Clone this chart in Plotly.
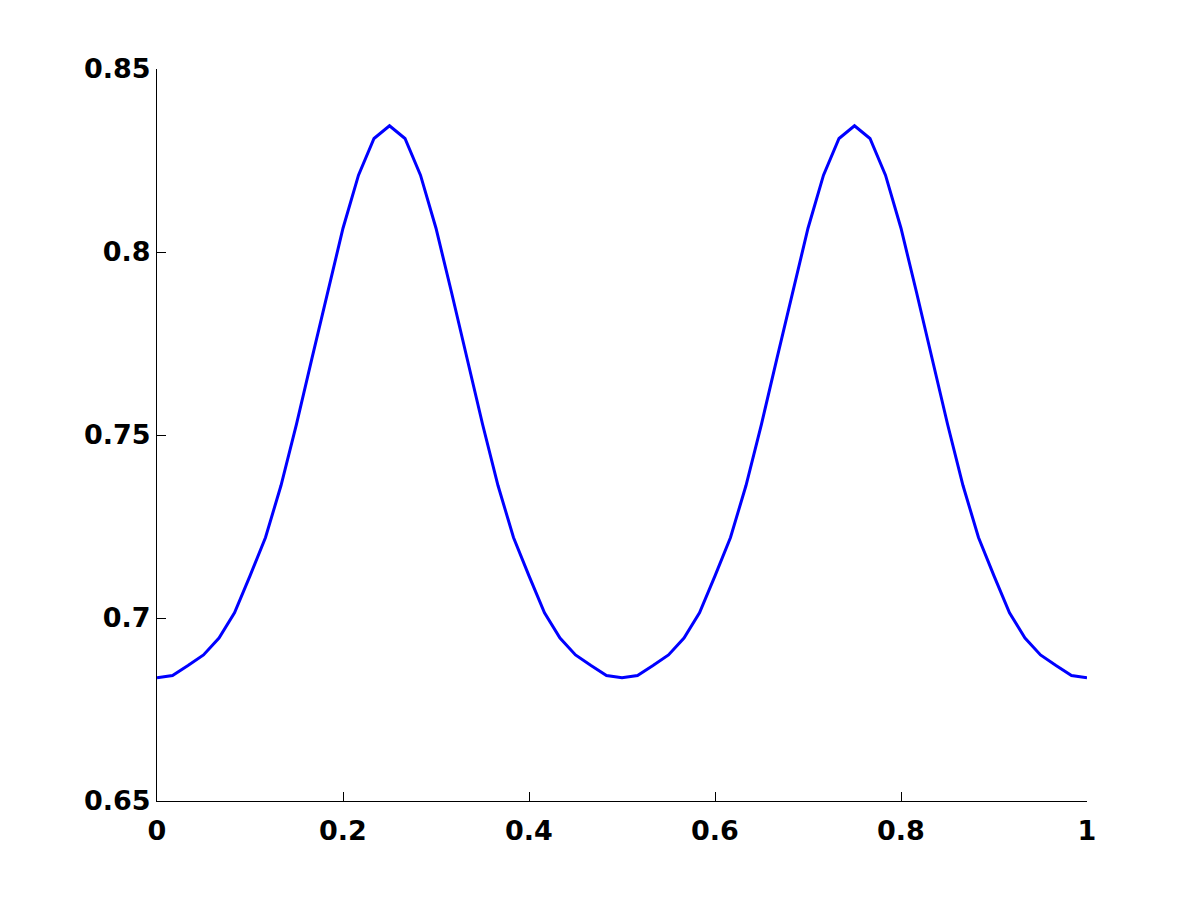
import plotly.graph_objects as go

# sample positions (step 1/60) and values
x_vals = [i / 60 for i in range(61)]
y_vals = [
    0.6837, 0.6843, 0.6870, 0.6899, 0.6945, 0.7014, 0.7115, 0.7220,
    0.7362, 0.7530, 0.7710, 0.7890, 0.8065, 0.8210, 0.8310, 0.8345,
    0.8310, 0.8210, 0.8065, 0.7890, 0.7710, 0.7530, 0.7362, 0.7220,
    0.7115, 0.7014, 0.6945, 0.6899, 0.6870, 0.6843, 0.6837,
    0.6843, 0.6870, 0.6899, 0.6945, 0.7014, 0.7115, 0.7220,
    0.7362, 0.7530, 0.7710, 0.7890, 0.8065, 0.8210, 0.8310, 0.8345,
    0.8310, 0.8210, 0.8065, 0.7890, 0.7710, 0.7530, 0.7362, 0.7220,
    0.7115, 0.7014, 0.6945, 0.6899, 0.6870, 0.6843, 0.6837,
]

x_ticks = [0, 0.2, 0.4, 0.6, 0.8, 1]
x_tick_text = ["0", "0.2", "0.4", "0.6", "0.8", "1"]
y_ticks = [0.65, 0.7, 0.75, 0.8, 0.85]
y_tick_text = ["0.65", "0.7", "0.75", "0.8", "0.85"]

fig = go.Figure()
fig.add_trace(go.Scatter(
    x=x_vals, y=y_vals,
    mode="lines",
    line=dict(color="#0000ff", width=3),
    showlegend=False,
    hoverinfo="skip",
))

tick_font = dict(family="DejaVu Sans, Arial, sans-serif", size=27,
                 color="black", weight="bold")

# page body adds an 8px offset, so margins are trimmed to keep the axes
# box at the same spot as the reference
fig.update_layout(
    width=1201,
    height=900,
    margin=dict(l=149, r=122, t=61, b=107),
    paper_bgcolor="white",
    plot_bgcolor="white",
    xaxis=dict(
        range=[0, 1],
        tickvals=x_ticks,
        ticktext=x_tick_text,
        ticks="inside",
        ticklen=9,
        tickwidth=1,
        tickcolor="black",
        showline=True,
        linecolor="black",
        linewidth=1,
        showgrid=False,
        zeroline=False,
        tickfont=tick_font,
        ticklabelstandoff=6,
    ),
    yaxis=dict(
        range=[0.65, 0.85],
        tickvals=y_ticks,
        ticktext=y_tick_text,
        ticks="inside",
        ticklen=9,
        tickwidth=1,
        tickcolor="black",
        showline=True,
        linecolor="black",
        linewidth=1,
        showgrid=False,
        zeroline=False,
        tickfont=tick_font,
    ),
)

fig.write_html("out.html")
